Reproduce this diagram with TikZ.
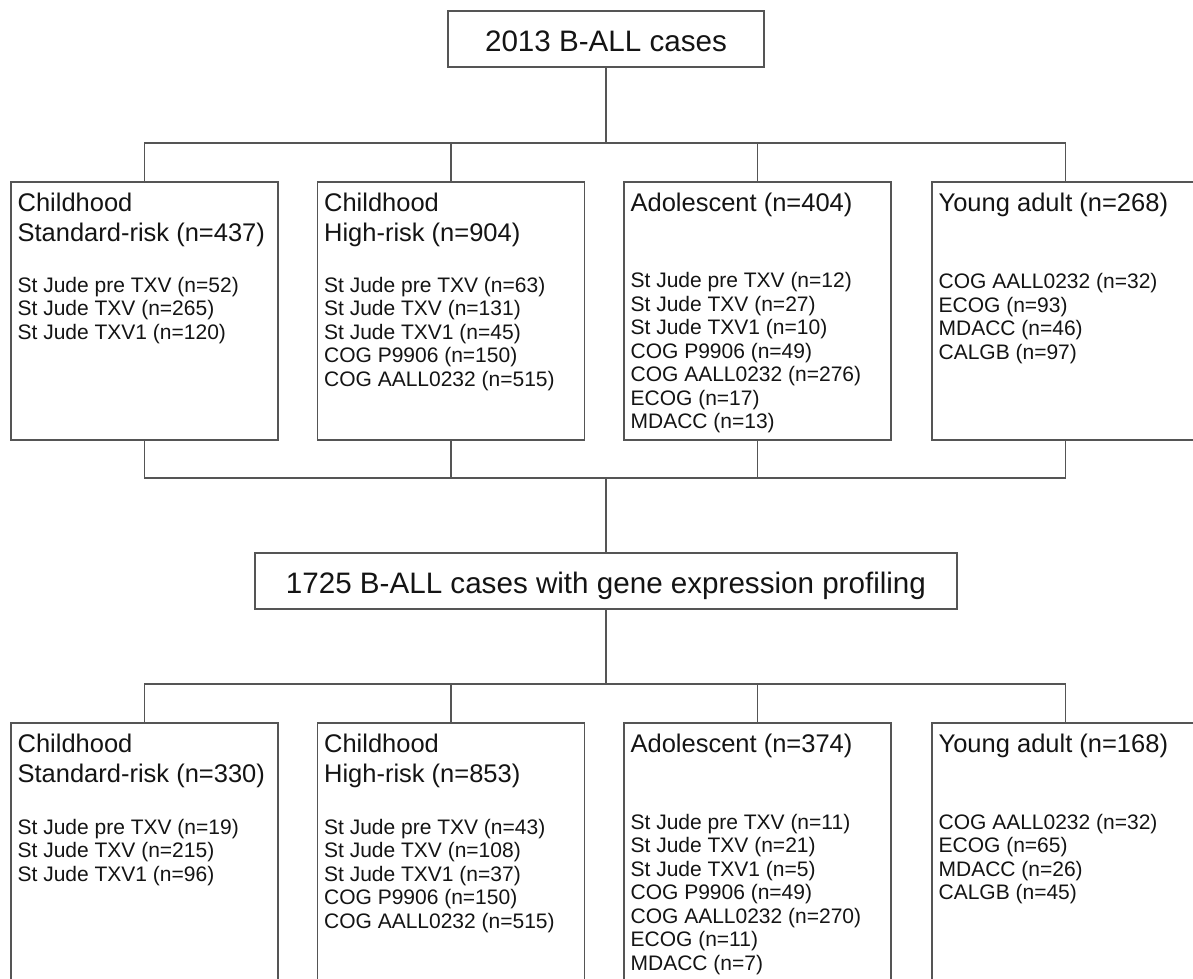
\documentclass[tikz,border=0pt]{standalone}
\usepackage{fontspec}
\setmainfont{Liberation Sans}
\usepackage{tikz}
\usetikzlibrary{positioning,calc}

\definecolor{linegray}{RGB}{85,85,85}
\definecolor{textblack}{RGB}{20,20,20}

\tikzset{
	mainbox/.style={draw=linegray,line width=1.2pt,minimum height=56pt,inner sep=0pt,
		text height=25pt,text depth=0pt,text=textblack,font=\fontsize{29.6}{34}\selectfont},
	catbox/.style={draw=linegray,line width=1.2pt,minimum width=267pt,minimum height=258pt,inner sep=0pt},
	cathead/.style={anchor=north west,inner sep=0pt,align=left,text=textblack,font=\fontsize{25.5}{30}\selectfont},
	catlist/.style={anchor=north west,inner sep=0pt,align=left,text=textblack,font=\fontsize{21}{23.5}\selectfont},
	link/.style={draw=linegray,line width=1.2pt}
}

\begin{document}
\begin{tikzpicture}[x=1pt,y=-1pt]
	\clip (0,0) rectangle (1193,979);
	\fill[white] (0,0) rectangle (1193,979);

	\node[mainbox,minimum width=316pt] at (606,39) (all) {2013 B-ALL cases};

	% first row
	\node[catbox] at (144.5,311) (sr) {};
	\node[cathead] at ([shift={(7,11)}]sr.north west) (srT) {Childhood\\Standard-risk (n=437)};
	\node[catlist] at ([shift={(7,95.5)}]sr.north west) (srL) {St Jude pre TXV (n=52)\\St Jude TXV (n=265)\\St Jude TXV1 (n=120)};

	\node[catbox] at (451,311) (hr) {};
	\node[cathead] at ([shift={(7,11)}]hr.north west) (hrT) {Childhood\\High-risk (n=904)};
	\node[catlist] at ([shift={(7,95.5)}]hr.north west) (hrL) {St Jude pre TXV (n=63)\\St Jude TXV (n=131)\\St Jude TXV1 (n=45)\\COG P9906 (n=150)\\COG AALL0232 (n=515)};

	\node[catbox] at (757.5,311) (ado) {};
	\node[cathead] at ([shift={(7,11)}]ado.north west) (adoT) {Adolescent (n=404)};
	\node[catlist] at ([shift={(7,91)}]ado.north west) (adoL) {St Jude pre TXV (n=12)\\St Jude TXV (n=27)\\St Jude TXV1 (n=10)\\COG P9906 (n=49)\\COG AALL0232 (n=276)\\ECOG (n=17)\\MDACC (n=13)};

	\node[catbox] at (1065.5,311) (ya) {};
	\node[cathead] at ([shift={(7,11)}]ya.north west) (yaT) {Young adult (n=268)};
	\node[catlist] at ([shift={(7,92)}]ya.north west) (yaL) {COG AALL0232 (n=32)\\ECOG (n=93)\\MDACC (n=46)\\CALGB (n=97)};

	\node[mainbox,minimum width=702pt] at (606,581) (gep) {1725 B-ALL cases with gene expression profiling};

	% second row
	\node[catbox] at (144.5,852) (sr2) {};
	\node[cathead] at ([shift={(7,11)}]sr2.north west) (sr2T) {Childhood\\Standard-risk (n=330)};
	\node[catlist] at ([shift={(7,96.5)}]sr2.north west) (sr2L) {St Jude pre TXV (n=19)\\St Jude TXV (n=215)\\St Jude TXV1 (n=96)};

	\node[catbox] at (451,852) (hr2) {};
	\node[cathead] at ([shift={(7,11)}]hr2.north west) (hr2T) {Childhood\\High-risk (n=853)};
	\node[catlist] at ([shift={(7,96.5)}]hr2.north west) (hr2L) {St Jude pre TXV (n=43)\\St Jude TXV (n=108)\\St Jude TXV1 (n=37)\\COG P9906 (n=150)\\COG AALL0232 (n=515)};

	\node[catbox] at (757.5,852) (ado2) {};
	\node[cathead] at ([shift={(7,11)}]ado2.north west) (ado2T) {Adolescent (n=374)};
	\node[catlist] at ([shift={(7,91.5)}]ado2.north west) (ado2L) {St Jude pre TXV (n=11)\\St Jude TXV (n=21)\\St Jude TXV1 (n=5)\\COG P9906 (n=49)\\COG AALL0232 (n=270)\\ECOG (n=11)\\MDACC (n=7)};

	\node[catbox] at (1065.5,852) (ya2) {};
	\node[cathead] at ([shift={(7,11)}]ya2.north west) (ya2T) {Young adult (n=168)};
	\node[catlist] at ([shift={(7,91.5)}]ya2.north west) (ya2L) {COG AALL0232 (n=32)\\ECOG (n=65)\\MDACC (n=26)\\CALGB (n=45)};

	% connectors
	\coordinate (split1) at (606,143);
	\coordinate (merge) at (606,478);
	\coordinate (split2) at (606,684);

	\draw[link] (all.south) -- (split1);
	\draw[link] (sr.north) |- (split1);
	\draw[link] (hr.north) |- (split1);
	\draw[link] (ado.north) |- (split1);
	\draw[link] (ya.north) |- (split1);

	\draw[link] (sr.south) |- (merge);
	\draw[link] (hr.south) |- (merge);
	\draw[link] (ado.south) |- (merge);
	\draw[link] (ya.south) |- (merge);
	\draw[link] (merge) -- (gep.north);

	\draw[link] (gep.south) -- (split2);
	\draw[link] (sr2.north) |- (split2);
	\draw[link] (hr2.north) |- (split2);
	\draw[link] (ado2.north) |- (split2);
	\draw[link] (ya2.north) |- (split2);
\end{tikzpicture}
\end{document}
